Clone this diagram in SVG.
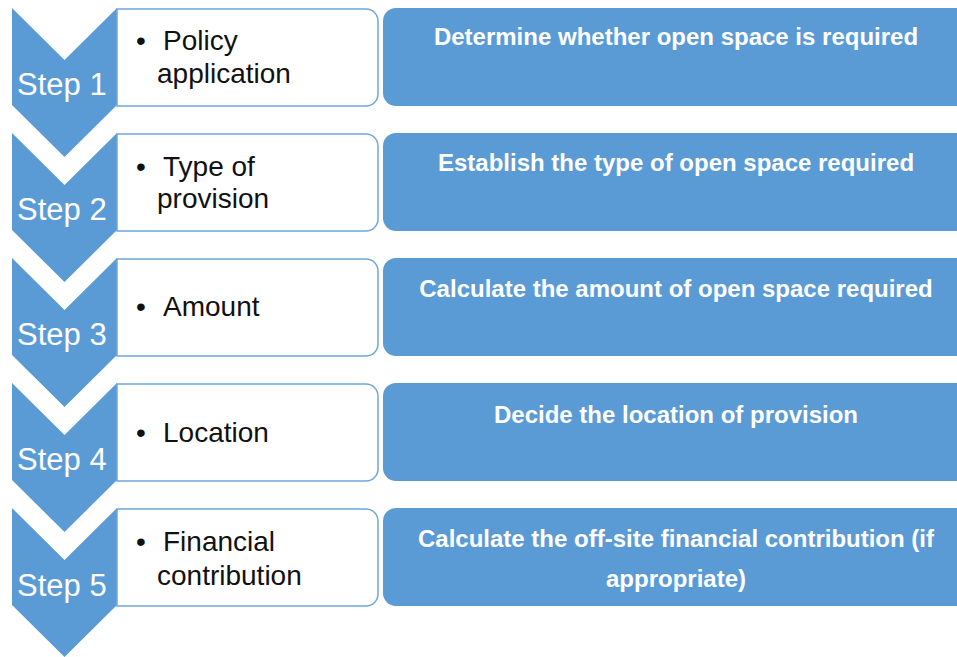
<svg xmlns="http://www.w3.org/2000/svg" width="957" height="657" viewBox="0 0 957 657">
<style>
.chev{fill:#5b9bd5}
.wbox{fill:#ffffff;stroke:#6fa6dc;stroke-width:1.5}
.bbox{fill:#5b9bd5}
.step{font-family:"Liberation Sans",Arial,sans-serif;font-size:31px;fill:#ffffff}
.item{font-family:"Liberation Sans",Arial,sans-serif;font-size:28px;fill:#111111}
.desc{font-family:"Liberation Sans",Arial,sans-serif;font-size:24px;font-weight:bold;fill:#ffffff;text-anchor:middle}
</style>
<rect width="957" height="657" fill="#ffffff"/>
<g id="step1">
<polygon class="chev" points="12,8 64.5,60 117,8 117,105 64.5,157 12,105"/>
<path class="wbox" d="M117,9 H366 A12,12 0 0 1 378,21 V94 A12,12 0 0 1 366,106 H117 Z"/>
<rect class="bbox" x="383" y="8" width="600" height="98" rx="13"/>
<text class="step" x="17" y="95">Step 1</text>
<text class="item" x="136" y="50">•</text>
<text class="item" x="163" y="50">Policy</text>
<text class="item" x="157" y="83">application</text>
<text class="desc" x="676" y="45">Determine whether open space is required</text>
</g>
<g id="step2">
<polygon class="chev" points="12,133 64.5,185 117,133 117,230 64.5,282 12,230"/>
<path class="wbox" d="M117,134 H366 A12,12 0 0 1 378,146 V219 A12,12 0 0 1 366,231 H117 Z"/>
<rect class="bbox" x="383" y="133" width="600" height="98" rx="13"/>
<text class="step" x="17" y="220">Step 2</text>
<text class="item" x="136" y="176">•</text>
<text class="item" x="163" y="176">Type of</text>
<text class="item" x="157" y="208">provision</text>
<text class="desc" x="676" y="171">Establish the type of open space required</text>
</g>
<g id="step3">
<polygon class="chev" points="12,258 64.5,310 117,258 117,355 64.5,407 12,355"/>
<path class="wbox" d="M117,259 H366 A12,12 0 0 1 378,271 V344 A12,12 0 0 1 366,356 H117 Z"/>
<rect class="bbox" x="383" y="258" width="600" height="98" rx="13"/>
<text class="step" x="17" y="345">Step 3</text>
<text class="item" x="136" y="316">•</text>
<text class="item" x="163" y="316">Amount</text>
<text class="desc" x="676" y="297">Calculate the amount of open space required</text>
</g>
<g id="step4">
<polygon class="chev" points="12,383 64.5,435 117,383 117,480 64.5,532 12,480"/>
<path class="wbox" d="M117,384 H366 A12,12 0 0 1 378,396 V469 A12,12 0 0 1 366,481 H117 Z"/>
<rect class="bbox" x="383" y="383" width="600" height="98" rx="13"/>
<text class="step" x="17" y="470">Step 4</text>
<text class="item" x="136" y="442">•</text>
<text class="item" x="163" y="442">Location</text>
<text class="desc" x="676" y="423">Decide the location of provision</text>
</g>
<g id="step5">
<polygon class="chev" points="12,508 64.5,560 117,508 117,605 64.5,657 12,605"/>
<path class="wbox" d="M117,509 H366 A12,12 0 0 1 378,521 V594 A12,12 0 0 1 366,606 H117 Z"/>
<rect class="bbox" x="383" y="508" width="600" height="98" rx="13"/>
<text class="step" x="17" y="596">Step 5</text>
<text class="item" x="136" y="551">•</text>
<text class="item" x="163" y="551">Financial</text>
<text class="item" x="157" y="585">contribution</text>
<text class="desc" x="676" y="547">Calculate the off-site financial contribution (if</text>
<text class="desc" x="676" y="587">appropriate)</text>
</g>
<g id="connectors"></g>
</svg>
